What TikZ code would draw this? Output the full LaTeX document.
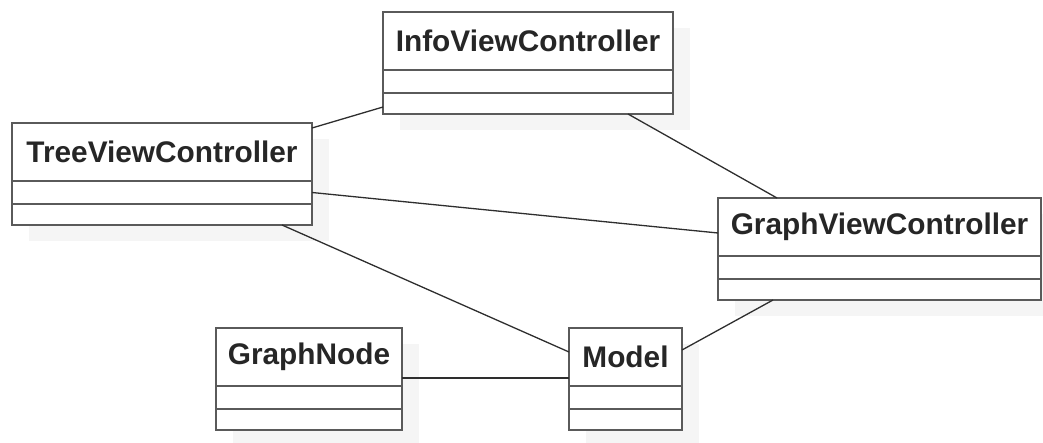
\documentclass[tikz,border=0pt]{standalone}
\usepackage{fontspec}
\setmainfont{Liberation Sans}
\usetikzlibrary{positioning,backgrounds}

\definecolor{boxgray}{HTML}{5A5A5A}
\definecolor{linegray}{HTML}{2E2E2E}
\definecolor{shadowgray}{HTML}{F5F5F5}

\tikzset{
  classhead/.style={draw=boxgray, line width=2pt, fill=white, inner sep=0pt, outer sep=0pt,
    anchor=north west, minimum height=58pt, text=black!85,
    font=\bfseries\fontsize{29.8}{34}\selectfont},
  classattr/.style={draw=boxgray, line width=2pt, fill=white, inner sep=0pt, outer sep=0pt,
    minimum height=23pt},
  classops/.style={classattr, minimum height=21pt},
  assoc/.style={draw=linegray, line width=1.3pt},
  shadowbox/.style={fill=shadowgray}
}

\begin{document}
\begin{tikzpicture}[x=1pt, y=-1pt]
        \useasboundingbox (0,0) rectangle (1043,443);

        % Classes
        \node[classhead, minimum width=290pt] (info) at (383,12) {InfoViewController};
        \node[classattr, minimum width=290pt, below=0pt of info] (info-attr) {};
        \node[classops, minimum width=290pt, below=0pt of info-attr] (info-ops) {};

        \node[classhead, minimum width=300pt] (tree) at (12,123) {TreeViewController};
        \node[classattr, minimum width=300pt, below=0pt of tree] (tree-attr) {};
        \node[classops, minimum width=300pt, below=0pt of tree-attr] (tree-ops) {};

        \node[classhead, minimum width=323pt] (graph) at (718,198) {GraphViewController};
        \node[classattr, minimum width=323pt, below=0pt of graph] (graph-attr) {};
        \node[classops, minimum width=323pt, below=0pt of graph-attr] (graph-ops) {};

        \node[classhead, minimum width=186pt] (gnode) at (216,328) {GraphNode};
        \node[classattr, minimum width=186pt, below=0pt of gnode] (gnode-attr) {};
        \node[classops, minimum width=186pt, below=0pt of gnode-attr] (gnode-ops) {};

        \node[classhead, minimum width=113pt] (model) at (569,328) {Model};
        \node[classattr, minimum width=113pt, below=0pt of model] (model-attr) {};
        \node[classops, minimum width=113pt, below=0pt of model-attr] (model-ops) {};

        % Shadows
        \begin{scope}[on background layer]
          \foreach \c in {info, tree, graph, gnode, model}
            \fill[shadowbox] ([shift={(17pt,-16pt)}]\c.north west) rectangle ([shift={(17pt,-16pt)}]\c-ops.south east);
        \end{scope}

        % Associations
        \draw[assoc] ([yshift=-5pt]tree.north east) -- ([yshift=7pt]info-ops.south west);
        \draw[assoc] ([xshift=-45pt]info-ops.south east) -- ([xshift=59pt]graph.north west);
        \draw[assoc] (tree-attr.east) -- ([yshift=-6pt]graph.west);
        \draw[assoc] ([xshift=-30pt]tree-ops.south east) -- ([yshift=5pt]model.west);
        \draw[assoc] ([yshift=8pt]gnode.south east) -- ([yshift=8pt]model.south west);
        \draw[assoc] ([yshift=-22pt]model.north east) -- ([xshift=55pt]graph-ops.south west);
    \end{tikzpicture}
\end{document}
